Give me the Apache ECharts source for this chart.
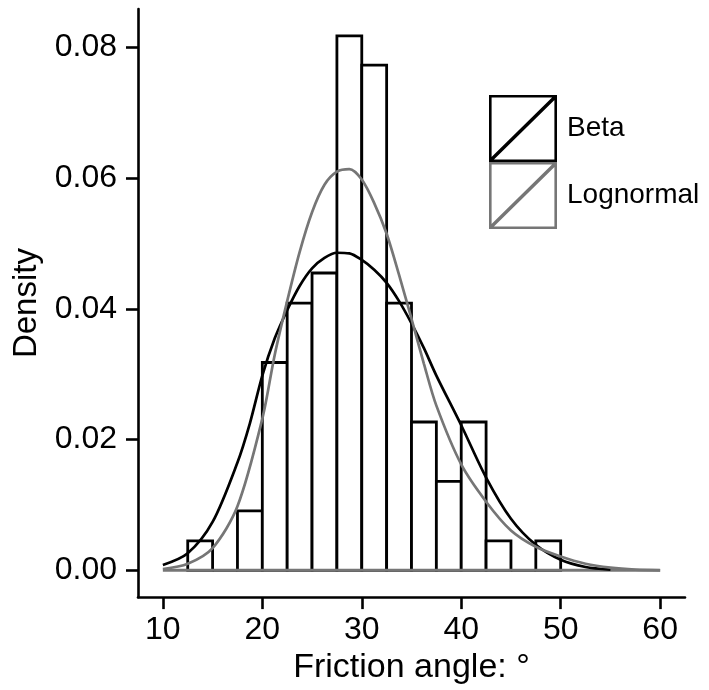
<!DOCTYPE html>
<html>
<head>
<meta charset="utf-8">
<script src="https://cdn.jsdelivr.net/npm/echarts@6/dist/echarts.min.js"></script>
<style>
html,body{margin:0;padding:0;background:#fff;}
#chart{width:709px;height:690px;}
</style>
</head>
<body>
<div id="chart"></div>
<script>
// Histogram bins (friction angle, degrees) and densities
const binStart = [12.5, 15, 17.5, 20, 22.5, 25, 27.5, 30, 32.5, 35, 37.5, 40, 42.5, 45, 47.5];
const binEnd   = [15, 17.5, 20, 22.5, 25, 27.5, 30, 32.5, 35, 37.5, 40, 42.5, 45, 47.5, 50];
const binDensity = [0.0045, 0, 0.0091, 0.0318, 0.0409, 0.0455, 0.0818, 0.0773, 0.0409, 0.0227, 0.0136, 0.0227, 0.0045, 0, 0.0045];

// Fitted Beta density
const betaX = [10, 12.5, 15, 17.5, 18.75, 20, 21.25, 22.5, 23.75, 25, 26.25, 27.5, 28.75, 30, 31.25, 32.5, 33.75, 35, 36.25, 37.5, 40, 42.5, 45, 47.5, 50, 52.5, 55];
const betaY = [0.0008, 0.0026, 0.0074, 0.0165, 0.0225, 0.0298, 0.0355, 0.0398, 0.0435, 0.0462, 0.0478, 0.0486, 0.0485, 0.0475, 0.0460, 0.0440, 0.0412, 0.0378, 0.0340, 0.0298, 0.0222, 0.0142, 0.0079, 0.0039, 0.0016, 0.0005, 0.0001];

// Fitted Lognormal density
const lognX = [10, 12.5, 15, 17.5, 20, 21.25, 22.5, 23.75, 25, 26.25, 27.5, 28.75, 30, 31.25, 32.5, 33.75, 35, 36.25, 37.5, 40, 42.5, 45, 47.5, 50, 52.5, 55, 57.5, 60];
const lognY = [0.0002, 0.0010, 0.0034, 0.0098, 0.0232, 0.0330, 0.0412, 0.0487, 0.0548, 0.0590, 0.0610, 0.0614, 0.0598, 0.0562, 0.0515, 0.0452, 0.0385, 0.0316, 0.0252, 0.0162, 0.0105, 0.0061, 0.0036, 0.0021, 0.0010, 0.0004, 0.0001, 0.0000];

// Baseline extent
const baseX = [10, 60];
const baseY = [0, 0];

// Axis ticks
const xTicks = [10, 20, 30, 40, 50, 60];
const yTicks = [0, 0.02, 0.04, 0.06, 0.08];

const seriesNames = ['Beta', 'Lognormal'];
const BLACK = '#000000';
const GREY = '#767676';

const histData = binStart.map((s, i) => [s, binEnd[i], binDensity[i]]);
const betaData = betaX.map((x, i) => [x, betaY[i]]);
const lognData = lognX.map((x, i) => [x, lognY[i]]);
const baseData = baseX.map((x, i) => [x, baseY[i]]);

const iconPath = 'path://M0,0 L68,0 L68,67 L0,67 Z M2.6,2.6 L2.6,64.4 L65.4,64.4 L65.4,2.6 Z M0,64.6 L65.6,0 L68,0 L68,2.4 L2.4,67 L0,67 Z';

const chart = echarts.init(document.getElementById('chart'), null, {renderer: 'canvas'});
const font = 'Liberation Sans, Arial, sans-serif';

chart.setOption({
  animation: false,
  backgroundColor: '#ffffff',
  textStyle: {fontFamily: font},
  grid: {left: 138, right: 24, top: 9, bottom: 91, containLabel: false},
  legend: {
    orient: 'vertical',
    left: 489,
    top: 95,
    itemWidth: 68,
    itemHeight: 67,
    itemGap: 0,
    padding: 0,
    icon: iconPath,
    selectedMode: false,
    data: [
      {name: seriesNames[0], itemStyle: {color: BLACK, borderWidth: 0}},
      {name: seriesNames[1], itemStyle: {color: GREY, borderWidth: 0}}
    ],
    textStyle: {fontSize: 28, color: '#000', fontFamily: font, padding: [0, 0, 0, 5]}
  },
  xAxis: {
    type: 'value',
    min: 7.5,
    max: 62.5,
    name: 'Friction angle: °',
    nameLocation: 'middle',
    nameGap: 42,
    nameTextStyle: {fontSize: 34, color: '#000', fontFamily: font},
    splitLine: {show: false},
    axisLine: {onZero: false, lineStyle: {color: '#000', width: 2.6}},
    axisTick: {show: true, length: 12, lineStyle: {color: '#000', width: 2.6}, customValues: xTicks},
    axisLabel: {fontSize: 32, color: '#000', margin: 17, fontFamily: font, customValues: xTicks}
  },
  yAxis: {
    type: 'value',
    min: -0.0041,
    max: 0.0859,
    name: 'Density',
    nameLocation: 'middle',
    nameGap: 94,
    nameTextStyle: {fontSize: 33, color: '#000', fontFamily: font},
    splitLine: {show: false},
    axisLine: {onZero: false, lineStyle: {color: '#000', width: 2.6}},
    axisTick: {show: true, length: 12, lineStyle: {color: '#000', width: 2.6}, customValues: yTicks},
    axisLabel: {fontSize: 32, color: '#000', margin: 21, fontFamily: font, customValues: yTicks,
      formatter: v => v.toFixed(2)}
  },
  series: [
    {
      type: 'custom',
      name: 'hist',
      data: histData,
      encode: {x: [0, 1], y: 2},
      z: 1,
      renderItem: function (params, api) {
        const p0 = api.coord([api.value(0), api.value(2)]);
        const p1 = api.coord([api.value(1), 0]);
        return {
          type: 'rect',
          shape: {x: p0[0], y: p0[1], width: p1[0] - p0[0], height: p1[1] - p0[1]},
          style: {fill: '#ffffff', stroke: BLACK, lineWidth: 2.8}
        };
      }
    },
    {
      type: 'line',
      name: 'baseline',
      data: baseData,
      symbol: 'none',
      z: 2,
      lineStyle: {color: GREY, width: 3}
    },
    {
      type: 'line',
      name: seriesNames[0],
      data: betaData,
      smooth: 0.3,
      symbol: 'none',
      z: 3,
      itemStyle: {color: BLACK},
      lineStyle: {color: BLACK, width: 2.7}
    },
    {
      type: 'line',
      name: seriesNames[1],
      data: lognData,
      smooth: 0.3,
      symbol: 'none',
      z: 4,
      itemStyle: {color: GREY},
      lineStyle: {color: GREY, width: 2.7}
    }
  ]
});
</script>
</body>
</html>
